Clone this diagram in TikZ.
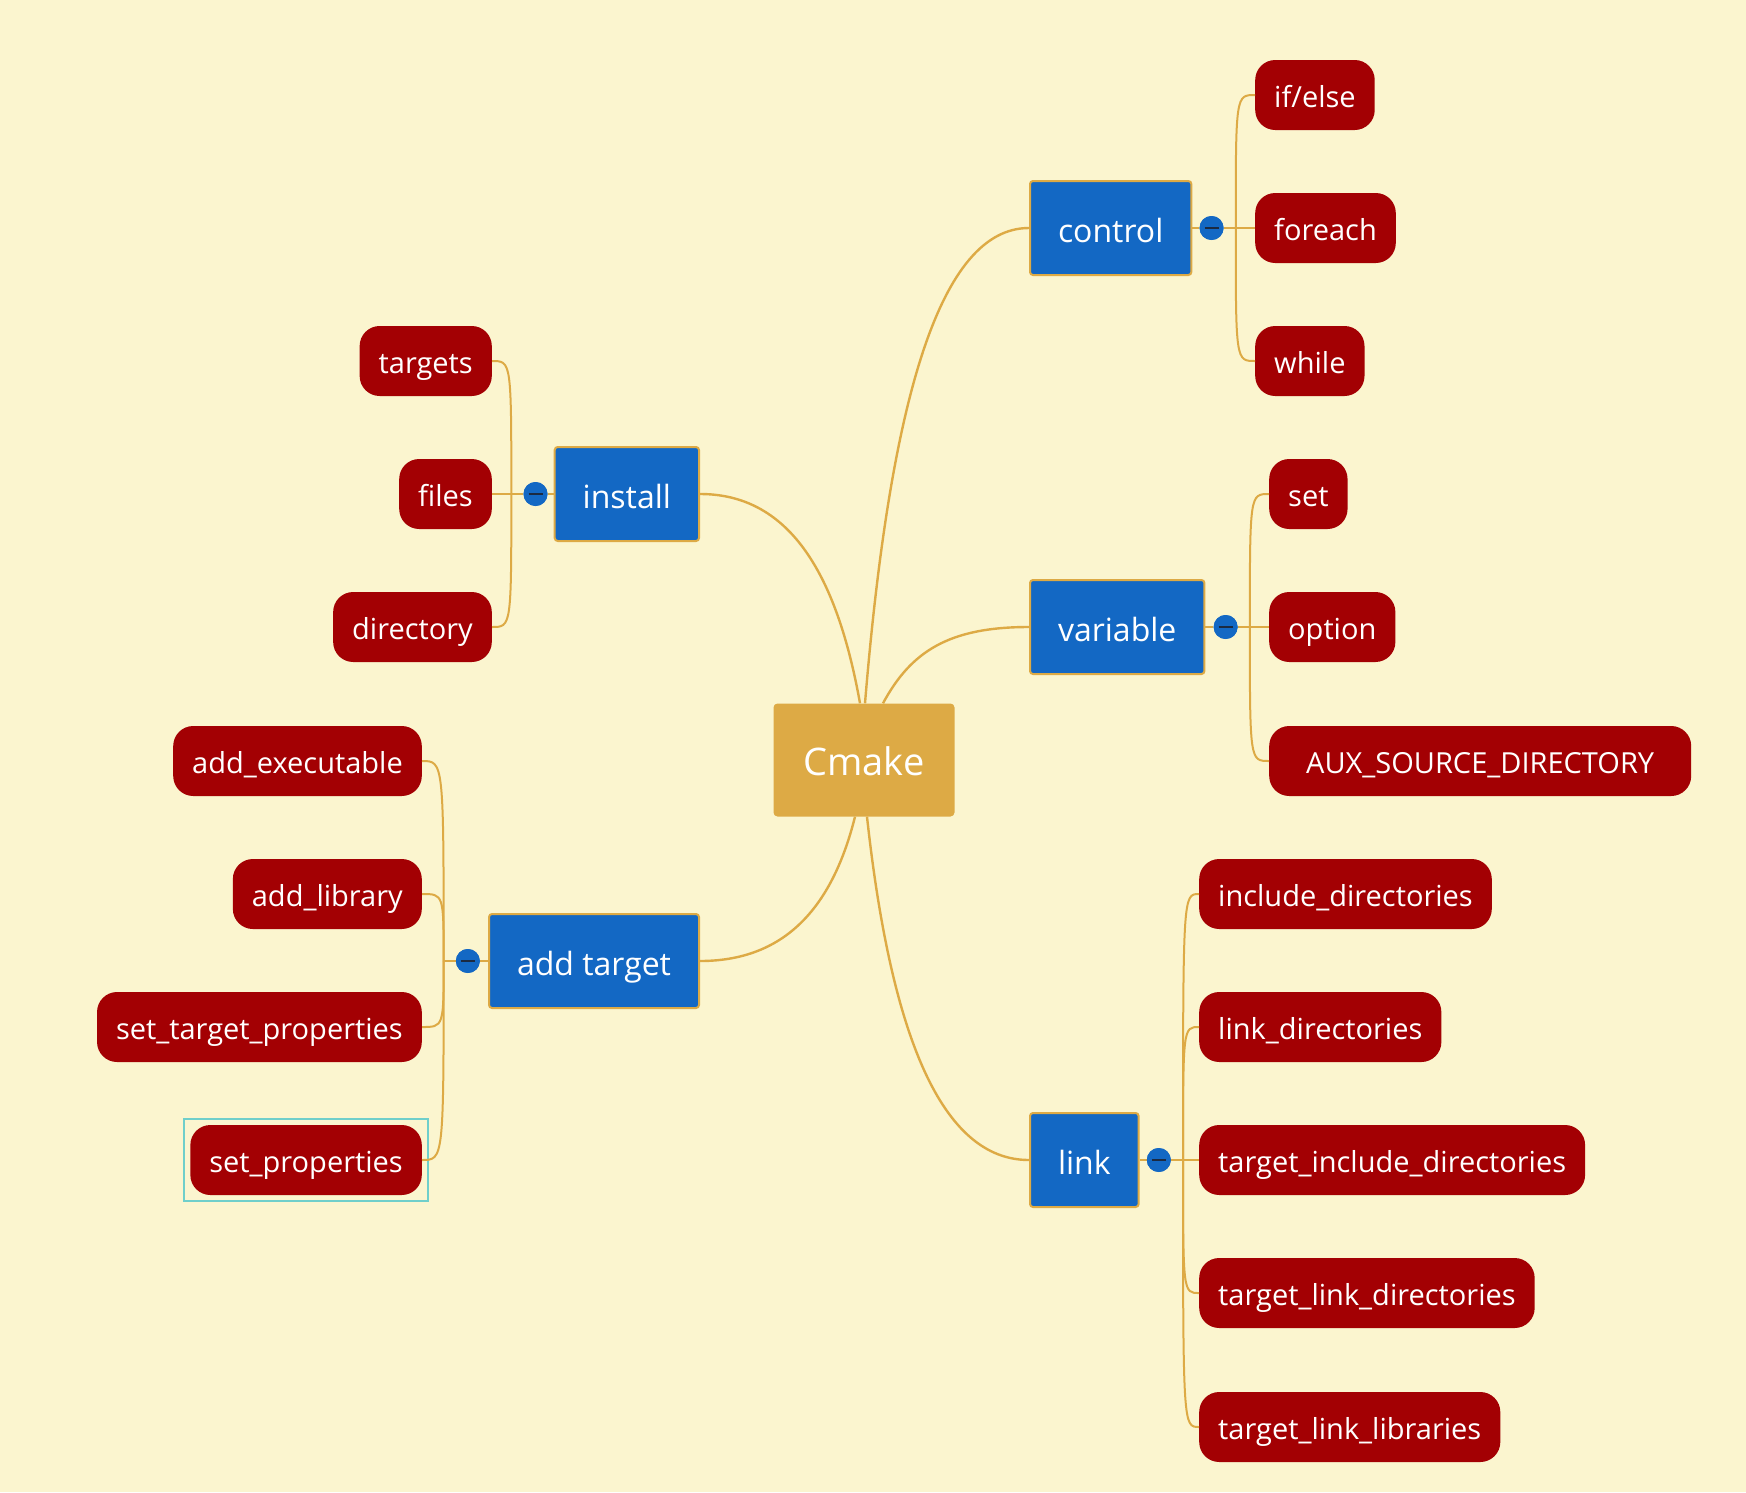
\documentclass[tikz,border=0pt]{standalone}
\usepackage{fontspec}
\setmainfont{Open Sans}
\usepackage{tikz}
\usetikzlibrary{calc}
\usetikzlibrary{positioning}
\definecolor{paper}{HTML}{FBF5CF}
\definecolor{gold}{HTML}{DDAA45}
\definecolor{topicblue}{HTML}{1368C4}
\definecolor{leafred}{HTML}{A30003}
\definecolor{selcyan}{HTML}{6FCFCB}
\definecolor{foldmark}{HTML}{1B2A42}

\begin{document}
\begin{tikzpicture}[x=1pt,y=-1pt,
    root/.style={fill=gold,rounded corners=4pt,minimum width=181pt,minimum height=113pt,
      text=white,font=\fontsize{38}{40}\selectfont,text height=31pt,text depth=0pt},
    topic/.style={fill=topicblue,draw=gold,line width=2pt,rounded corners=3pt,minimum height=94pt,
      inner xsep=28pt,text=white,font=\fontsize{32}{34}\selectfont,text height=28pt,text depth=0pt},
    leaf/.style={fill=leafred,rounded corners=20pt,minimum height=70pt,inner xsep=19pt,
      text=white,font=\fontsize{29}{31}\selectfont,text height=24pt,text depth=0pt},
    fold/.style={circle,fill=topicblue,minimum size=24pt,inner sep=0pt,
      path picture={\draw[foldmark,line width=2.5pt] ([xshift=-7pt]path picture bounding box.center)
        -- ([xshift=7pt]path picture bounding box.center);}},
    branch/.style={draw=gold,line width=2.4pt},
    twig/.style={draw=gold,line width=2pt}]

  \fill[paper] (0,0) rectangle (1746,1492);
  \useasboundingbox (0,0) rectangle (1746,1492);

  % centre and main topics
  \node[root] (cmake) at (864,760) {Cmake};
  \node[topic,anchor=west] (control) at (1029,228) {control};
  \node[topic,anchor=west] (variable) at (1029,627) {variable};
  \node[topic,anchor=west] (link) at (1029,1160) {link};
  \node[topic,anchor=east] (install) at (700,494) {install};
  \node[topic,anchor=east] (addtarget) at (700,961) {add target};

  % leaves, right side
  \node[leaf,anchor=west] (ifelse) at (1255,95) {if/else};
  \node[leaf,anchor=west] (foreach) at (1255,228) {foreach};
  \node[leaf,anchor=west] (while) at (1255,361) {while};
  \node[leaf,anchor=west] (set) at (1269,494) {set};
  \node[leaf,anchor=west] (option) at (1269,627) {option};
  \node[leaf,anchor=west,minimum width=422pt] (auxsrc) at (1269,761) {AUX\_SOURCE\_DIRECTORY};
  \node[leaf,anchor=west] (incdirs) at (1199,894) {include\_directories};
  \node[leaf,anchor=west] (linkdirs) at (1199,1027) {link\_directories};
  \node[leaf,anchor=west] (tgtinc) at (1199,1160) {target\_include\_directories};
  \node[leaf,anchor=west] (tgtlinkdirs) at (1199,1293) {target\_link\_directories};
  \node[leaf,anchor=west] (tgtlinklibs) at (1199,1427) {target\_link\_libraries};

  % leaves, left side
  \node[leaf,anchor=east] (targets) at (492,361) {targets};
  \node[leaf,anchor=east] (files) at (492,494) {files};
  \node[leaf,anchor=east] (directory) at (492,627) {directory};
  \node[leaf,anchor=east] (addexe) at (422,761) {add\_executable};
  \node[leaf,anchor=east] (addlib) at (422,894) {add\_library};
  \node[leaf,anchor=east] (settgtprop) at (422,1027) {set\_target\_properties};
  \node[leaf,anchor=east] (setprop) at (422,1160) {set\_properties};
  \draw[selcyan,line width=2pt] ([shift={(-6pt,6pt)}]setprop.north west)
    rectangle ([shift={(6pt,-6pt)}]setprop.south east);

  % main branches
  \draw[branch] ([xshift=1pt]cmake.north) .. controls +(25,-304) and +(-89,0) .. (control.west);
  \draw[branch] ([xshift=19pt]cmake.north) .. controls +(28,-52) and +(-80,0) .. (variable.west);
  \draw[branch] ([xshift=-4pt]cmake.north) .. controls +(-24,-134) and +(87,0) .. (install.east);
  \draw[branch] ([xshift=-9pt]cmake.south) .. controls +(-23,92) and +(84,0) .. (addtarget.east);
  \draw[branch] ([xshift=3pt]cmake.south) .. controls +(24,220) and +(-87,0) .. (link.west);

  % fold buttons and junctions
  \node[fold,right=7pt of control] (ctrldot) {};
  \node[fold,right=8pt of variable] (vardot) {};
  \node[fold,right=7pt of link] (linkdot) {};
  \node[fold,left=6pt of install] (instdot) {};
  \node[fold,left=8pt of addtarget] (adddot) {};
  \coordinate[right=12pt of ctrldot] (ctrlj);
  \coordinate[right=12pt of vardot] (varj);
  \coordinate[right=12pt of linkdot] (linkj);
  \coordinate[left=12pt of instdot] (instj);
  \coordinate[left=12pt of adddot] (addj);

  \draw[twig] (control) -- (ctrldot) -- (ctrlj);
  \draw[twig] (variable) -- (vardot) -- (varj);
  \draw[twig] (link) -- (linkdot) -- (linkj);
  \draw[twig] (install) -- (instdot) -- (instj);
  \draw[twig] (addtarget) -- (adddot) -- (addj);
  \node[fold] at (ctrldot) {};
  \node[fold] at (vardot) {};
  \node[fold] at (linkdot) {};
  \node[fold] at (instdot) {};
  \node[fold] at (adddot) {};

  % twigs to the leaves
  \foreach \l in {ifelse,foreach,while}
    \draw[twig] (ctrlj) .. controls (ctrlj |- \l.west) .. (\l.west);
  \foreach \l in {set,option,auxsrc}
    \draw[twig] (varj) .. controls (varj |- \l.west) .. (\l.west);
  \foreach \l in {incdirs,linkdirs,tgtinc,tgtlinkdirs,tgtlinklibs}
    \draw[twig] (linkj) .. controls (linkj |- \l.west) .. (\l.west);
  \foreach \l in {targets,files,directory}
    \draw[twig] (instj) .. controls (instj |- \l.east) .. (\l.east);
  \foreach \l in {addexe,addlib,settgtprop,setprop}
    \draw[twig] (addj) .. controls (addj |- \l.east) .. (\l.east);
\end{tikzpicture}
\end{document}
